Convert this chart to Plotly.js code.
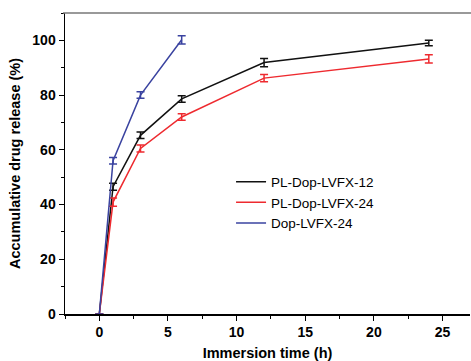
<!DOCTYPE html>
<html>
<head>
<meta charset="utf-8">
<script src="https://cdn.plot.ly/plotly-3.0.1.min.js"></script>
<style>html,body{margin:0;padding:0;background:#fff;}#chart{width:471px;height:361px;}</style>
</head>
<body>
<div id="chart"></div>
<script>
var seriesNames = ["PL-Dop-LVFX-12", "PL-Dop-LVFX-24", "Dop-LVFX-24"];
var timeA = [0, 1, 3, 6, 12, 24];
var timeB = [0, 1, 3, 6, 12, 24];
var timeC = [0, 1, 3, 6];
var releaseA = [0, 46.5, 65.3, 78.6, 91.9, 99.0];
var releaseB = [0, 40.9, 60.5, 72.0, 86.2, 93.2];
var releaseC = [0, 56.0, 80.0, 100.2];
var errA = [0, 1.3, 1.2, 1.2, 1.5, 1.0];
var errB = [0, 1.5, 1.3, 1.2, 1.3, 1.5];
var errC = [0, 1.2, 1.2, 1.5];
var colors = ["#111111", "#ee2a2f", "#3a43a0"];

function mk(x, y, e, name, c) {
  return {
    x: x, y: y, name: name, type: "scatter", mode: "lines",
    line: {color: c, width: 1.5},
    error_y: {type: "data", array: e, visible: true, color: c, thickness: 1.5, width: 4}
  };
}
var data = [
  mk(timeA, releaseA, errA, seriesNames[0], colors[0]),
  mk(timeB, releaseB, errB, seriesNames[1], colors[1]),
  mk(timeC, releaseC, errC, seriesNames[2], colors[2])
];
var layout = {
  width: 471, height: 361,
  margin: {l: 65, r: 1, t: 13, b: 47},
  paper_bgcolor: "#fff", plot_bgcolor: "#fff",
  font: {family: "Liberation Sans, Arial, sans-serif", color: "#000"},
  showlegend: true,
  legend: {x: 0.41, y: 0.49, xanchor: "left", yanchor: "top", bgcolor: "rgba(0,0,0,0)",
           font: {size: 13.5, family: "Liberation Sans, Arial, sans-serif"}, tracegroupgap: 0, itemwidth: 30},
  xaxis: {
    range: [-2.5, 27], showgrid: false, zeroline: false,
    showline: true, linecolor: "#000", linewidth: 1.5,
    ticks: "outside", ticklen: 5, tickwidth: 1, tickcolor: "#000",
    tick0: 0, dtick: 5,
    minor: {ticks: "outside", ticklen: 3, tickwidth: 1, tickcolor: "#000", dtick: 2.5, tick0: 0, showgrid: false},
    tickfont: {size: 14, family: "Liberation Sans, Arial, sans-serif", weight: "bold"},
    title: {text: "<b>Immersion time (h)</b>", font: {size: 14.5}, standoff: 8}
  },
  yaxis: {
    range: [0, 110], showgrid: false, zeroline: false,
    showline: true, linecolor: "#000", linewidth: 1.5,
    ticks: "outside", ticklen: 5, tickwidth: 1, tickcolor: "#000",
    tick0: 0, dtick: 20,
    minor: {ticks: "outside", ticklen: 3, tickwidth: 1, tickcolor: "#000", dtick: 10, tick0: 0, showgrid: false},
    tickfont: {size: 14, family: "Liberation Sans, Arial, sans-serif", weight: "bold"},
    title: {text: "<b>Accumulative drug release (%)</b>", font: {size: 14.5}, standoff: 8}
  },
  shapes: [
    {type: "line", xref: "paper", yref: "paper", x0: -0.005, x1: 1.01, y0: 1, y1: 1,
     line: {color: "#777", width: 1.5}}
  ]
};
Plotly.newPlot("chart", data, layout, {displayModeBar: false, staticPlot: true});
</script>
</body>
</html>
